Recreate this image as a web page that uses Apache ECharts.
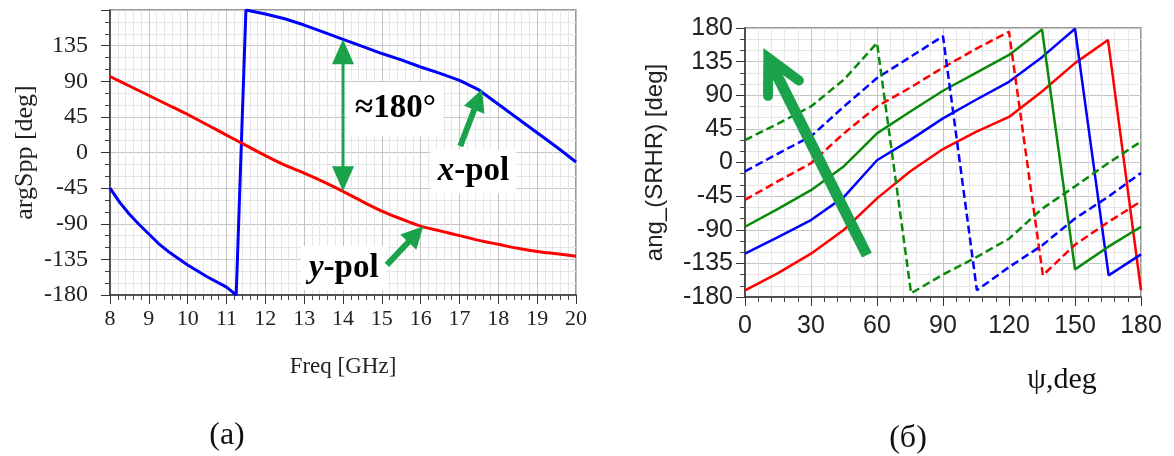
<!DOCTYPE html>
<html>
<head>
<meta charset="utf-8">
<script src="https://cdn.jsdelivr.net/npm/echarts@6/dist/echarts.min.js"></script>
<style>
  html, body { margin: 0; padding: 0; background: #fff; }
  #main { width: 1174px; height: 456px; }
</style>
</head>
<body>
<div id="main"></div>
<script>
// (a) argSpp vs Freq
const freqX = [8, 8.25, 8.5, 8.75, 9, 9.25, 9.5, 10, 10.5, 11, 11.25, 11.5, 12, 12.5, 13, 13.5, 14, 14.5, 15, 15.5, 16, 16.5, 17, 17.5, 18, 18.5, 19, 19.5, 20];
const argXpol = [-45, -63, -78, -91, -103, -115, -125, -142, -157, -170, -180, 180, 175, 169, 161, 152, 143, 134, 125, 117, 108, 100, 91, 79, 61, 43, 25, 7, -12];
const freqY = [8, 8.5, 9, 9.5, 10, 10.5, 11, 11.5, 12, 12.5, 13, 13.5, 14, 14.5, 15, 15.5, 16, 16.5, 17, 17.5, 18, 18.5, 19, 19.5, 20];
const argYpol = [96, 84, 72, 60, 48, 35, 22, 9, -4, -16, -26, -37, -49, -62, -74, -84, -93, -99, -105, -111, -116, -121, -125, -128, -131];

// (б) ang_(SRHR) vs psi
const psiRedSolid = [0, 15, 30, 45, 60, 75, 90, 105, 120, 135, 150, 165, 180];
const angRedSolid = [-171, -148, -122, -90, -48, -12, 18, 41, 61, 95, 133, 164, -171];
const psiBlueSolid = [0, 15, 30, 45, 60, 75, 90, 105, 120, 135, 150, 165.3, 180];
const angBlueSolid = [-122, -100, -77, -46, 3, 30, 59, 84, 108, 141, 179, -151, -123];
const psiGreenSolid = [0, 15, 30, 45, 60, 75, 90, 105, 120, 135, 150, 165, 180];
const angGreenSolid = [-86, -62, -37, -5, 39, 68, 96, 120, 144, 178, -143, -113, -86];
const psiRedDash = [0, 15, 30, 45, 60, 75, 90, 105, 120, 135.4, 150, 165, 180];
const angRedDash = [-50, -25, -1, 39, 75, 100, 127, 152, 175, -151, -110, -80, -52];
const psiBlueDash = [0, 15, 30, 45, 60, 75, 90, 105.4, 120, 135, 150, 165, 180];
const angBlueDash = [-12, 12, 35, 75, 113, 141, 169, -171, -140, -111, -75, -46, -14];
const psiGreenDash = [0, 15, 30, 45, 60, 75.5, 90, 105, 120, 135, 150, 165, 180];
const angGreenDash = [30, 52, 75, 111, 160, -175, -150, -127, -102, -62, -32, -1, 28];

// annotations (data coordinates)
const gapArrow = [[14, 143], [14, -49]];
const xPolArrow = [[17.02, 8], [17.58, 80]];
const yPolArrow = [[15.13, -142], [16.07, -93]];
const psiArrow = [[55.4, -124], [10.6, 140]];

const GREEN = '#1ba34c';
const SERIF = '"Liberation Serif", "DejaVu Serif", serif';
const SANS = '"Liberation Sans", Arial, sans-serif';

const zip = (xs, ys) => xs.map((x, i) => [x, ys[i]]);

const chart = echarts.init(document.getElementById('main'));

function valueAxis(o) {
  return Object.assign({
    type: 'value',
    axisLine: { show: true, onZero: false, lineStyle: { color: '#333', width: 1.5 } },
    axisTick: { show: true, length: 9, lineStyle: { color: '#333' } },
    splitLine: { show: true, lineStyle: { color: '#c4c4c4', width: 1 } },
    minorSplitLine: { show: true, lineStyle: { color: '#e6e6e6', width: 1 } }
  }, o);
}

function line(name, xi, data, color, dashed, width, smooth) {
  return {
    name: name,
    type: 'line',
    xAxisIndex: xi,
    yAxisIndex: xi,
    data: data,
    showSymbol: false,
    symbol: 'none',
    smooth: smooth || false,
    animation: false,
    lineStyle: { color: color, width: width, type: dashed ? [8, 4] : 'solid' }
  };
}

const option = {
  backgroundColor: '#fff',
  animation: false,
  grid: [
    { left: 110, top: 10, width: 466, height: 285, show: true, borderColor: '#777', borderWidth: 1.5, backgroundColor: '#fff' },
    { left: 745, top: 28, width: 396, height: 269, show: true, borderColor: '#777', borderWidth: 1.5, backgroundColor: '#fff' }
  ],
  xAxis: [
    valueAxis({
      gridIndex: 0, min: 8, max: 20, interval: 1,
      minorTick: { show: true, splitNumber: 5, length: 5, lineStyle: { color: '#444' } },
      axisLabel: { fontFamily: SERIF, fontSize: 22, color: '#222', margin: 13 },
      name: 'Freq [GHz]', nameLocation: 'middle', nameGap: 60,
      nameTextStyle: { fontFamily: SERIF, fontSize: 23, color: '#222' }
    }),
    valueAxis({
      gridIndex: 1, min: 0, max: 180, interval: 30,
      minorTick: { show: true, splitNumber: 5, length: 5, lineStyle: { color: '#444' } },
      axisLabel: { fontFamily: SANS, fontSize: 25, color: '#222', margin: 17 }
    })
  ],
  yAxis: [
    valueAxis({
      gridIndex: 0, min: -180, max: 180, interval: 45,
      minorTick: { show: true, splitNumber: 3, length: 5, lineStyle: { color: '#444' } },
      axisLabel: { fontFamily: SERIF, fontSize: 24, color: '#222', margin: 22, showMaxLabel: false },
      name: 'argSpp [deg]', nameLocation: 'middle', nameGap: 72, nameRotate: 90,
      nameTextStyle: { fontFamily: SERIF, fontSize: 26, color: '#222' }
    }),
    valueAxis({
      gridIndex: 1, min: -180, max: 180, interval: 45,
      minorTick: { show: true, splitNumber: 3, length: 5, lineStyle: { color: '#444' } },
      axisLabel: { fontFamily: SANS, fontSize: 25, color: '#222', margin: 12 },
      name: 'ang_(SRHR) [deg]', nameLocation: 'middle', nameGap: 78, nameRotate: 90,
      nameTextStyle: { fontFamily: SANS, fontSize: 24, color: '#222' }
    })
  ],
  series: [
    line('x-pol', 0, zip(freqX, argXpol), '#0000ff', false, 3),
    line('y-pol', 0, zip(freqY, argYpol), '#ff0000', false, 3, 0.3),
    line('red', 1, zip(psiRedSolid, angRedSolid), '#ff0000', false, 2.5),
    line('blue', 1, zip(psiBlueSolid, angBlueSolid), '#0000ff', false, 2.5),
    line('green', 1, zip(psiGreenSolid, angGreenSolid), '#0a8a0a', false, 2.5),
    line('red dash', 1, zip(psiRedDash, angRedDash), '#ff0000', true, 2.5),
    line('blue dash', 1, zip(psiBlueDash, angBlueDash), '#0000ff', true, 2.5),
    line('green dash', 1, zip(psiGreenDash, angGreenDash), '#0a8a0a', true, 2.5)
  ]
};

chart.setOption(option);

// --- annotations, positioned through the axes ---
const px = (gi, p) => chart.convertToPixel({ gridIndex: gi }, p);

function head(tip, from, len, half) {
  const dx = tip[0] - from[0], dy = tip[1] - from[1];
  const d = Math.hypot(dx, dy), ux = dx / d, uy = dy / d;
  const bx = tip[0] - ux * len, by = tip[1] - uy * len;
  return {
    type: 'polygon', z: 20,
    shape: { points: [tip, [bx - uy * half, by + ux * half], [bx + uy * half, by - ux * half]] },
    style: { fill: GREEN }
  };
}
function shaft(a, b, w, cut) {
  const dx = b[0] - a[0], dy = b[1] - a[1], d = Math.hypot(dx, dy);
  const e = [b[0] - dx / d * cut, b[1] - dy / d * cut];
  return { type: 'line', z: 20, shape: { x1: a[0], y1: a[1], x2: e[0], y2: e[1] }, style: { stroke: GREEN, lineWidth: w } };
}
function label(gi, p, w, h, text, rich) {
  const c = px(gi, p);
  return [
    { type: 'rect', z: 15, shape: { x: c[0] - w / 2, y: c[1] - h / 2, width: w, height: h }, style: { fill: '#fff' } },
    { type: 'text', z: 21, x: c[0], y: c[1], style: { text: text, rich: rich, align: 'center', verticalAlign: 'middle' } }
  ];
}

const g = [];
// double arrow ≈180°
const ga = px(0, gapArrow[0]), gb = px(0, gapArrow[1]);
const mid = [(ga[0] + gb[0]) / 2, (ga[1] + gb[1]) / 2];
g.push(shaft(mid, ga, 3, 20), shaft(mid, gb, 3, 20), head(ga, gb, 25, 11), head(gb, ga, 25, 11));
// x-pol / y-pol arrows
[xPolArrow, yPolArrow].forEach(a => {
  const t0 = px(0, a[0]), t1 = px(0, a[1]);
  g.push(shaft(t0, t1, 6, 18), head(t1, t0, 22, 11));
});
const bold = { fontFamily: SERIF, fontSize: 33, fontWeight: 'bold', color: '#000' };
const ital = { fontFamily: SERIF, fontSize: 33, fontStyle: 'italic', fontWeight: 'bold', color: '#000' };
g.push(...label(0, [15.35, 55], 96, 54, '{a|≈180°}', { a: { fontFamily: SERIF, fontSize: 33, fontWeight: 'bold', color: GREEN } }));
g.push(...label(0, [17.36, -24], 86, 44, '{i|x}{b|-pol}', { i: ital, b: bold }));
g.push(...label(0, [14.02, -146], 86, 44, '{i|y}{b|-pol}', { i: ital, b: bold }));

// big arrow on (б)
const pa = px(1, psiArrow[0]), pb = px(1, psiArrow[1]);
g.push(shaft(pa, pb, 11, 4));
{
  const dx = pa[0] - pb[0], dy = pa[1] - pb[1], d = Math.hypot(dx, dy);
  const ux = dx / d, uy = dy / d, ang = 27 * Math.PI / 180, L = 38;
  const rot = s => [pb[0] + L * (ux * Math.cos(s * ang) - uy * Math.sin(s * ang)), pb[1] + L * (ux * Math.sin(s * ang) + uy * Math.cos(s * ang))];
  g.push({ type: 'polyline', z: 20, shape: { points: [rot(1), pb, rot(-1)] }, style: { stroke: GREEN, lineWidth: 10, fill: null, lineCap: 'round', lineJoin: 'miter' } });
}

// axis title of (б) and panel captions
g.push({ type: 'text', x: 1062, y: 380, style: { text: 'ψ,deg', font: '30px ' + SERIF, fill: '#111', align: 'center', verticalAlign: 'middle' } });
g.push({ type: 'text', x: 227, y: 436, style: { text: '(a)', font: '32px ' + SERIF, fill: '#111', align: 'center', verticalAlign: 'middle' } });
g.push({ type: 'text', x: 908, y: 439, style: { text: '(б)', font: '32px ' + SERIF, fill: '#111', align: 'center', verticalAlign: 'middle' } });

chart.setOption({ graphic: g });
</script>
</body>
</html>
